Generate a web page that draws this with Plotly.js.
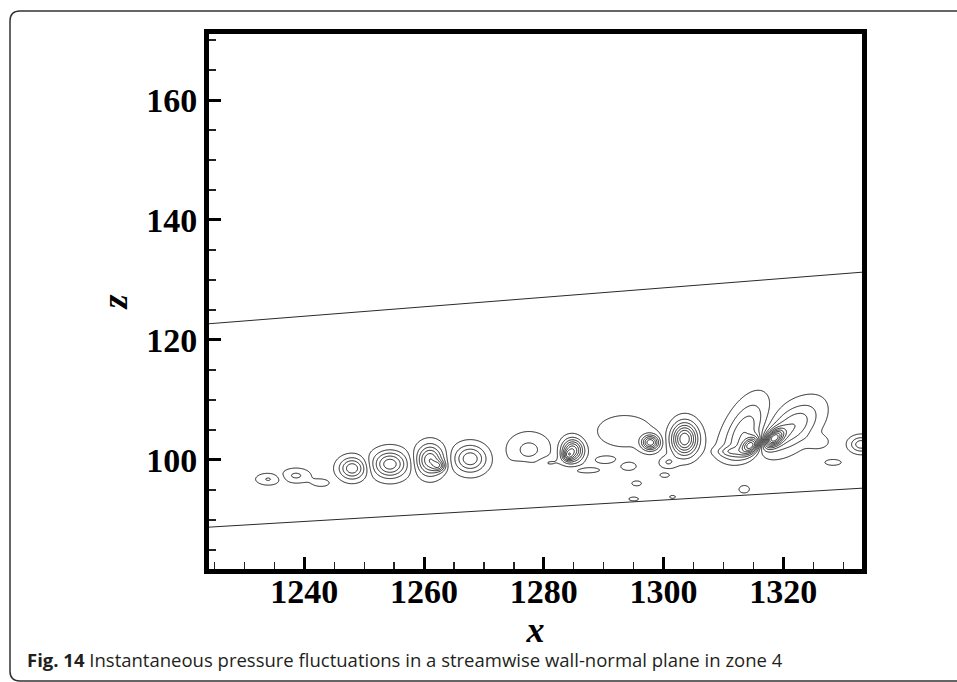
<!DOCTYPE html>
<html>
<head>
<meta charset="utf-8">
<script src="https://cdn.plot.ly/plotly-3.0.1.min.js"></script>
<style>
  html, body { margin: 0; padding: 0; background: #fff; }
  #chart { width: 957px; height: 682px; }
</style>
</head>
<body>
<div id="chart"></div>
<script>
// Pressure-fluctuation structures in the streamwise (x) / wall-normal (z) plane.
// Each structure: centre (x, z), peak amplitude in contour steps, widths along its
// own axes, and tilt of its major axis in degrees.
const vortexX    = [1234.0, 1238.6, 1242.8, 1248.0, 1254.3, 1261.0, 1262.5, 1267.7, 1277.5, 1280.6,
                    1284.8, 1284.0, 1287.0, 1290.3, 1294.1, 1295.5, 1293.5, 1297.8, 1303.5, 1300.7,
                    1300.2, 1295.0, 1301.5, 1313.3, 1314.6, 1321.5, 1318.4, 1311.0, 1311.0, 1325.8,
                    1328.3, 1333.0, 1313.4, 1276.5];
const vortexZ    = [96.8, 97.4, 96.2, 98.6, 99.3, 100.0, 99.0, 100.2, 101.7, 99.6,
                    101.6, 100.7, 98.3, 100.0, 99.0, 96.1, 104.8, 102.9, 103.5, 99.6,
                    97.5, 93.5, 93.85, 104.3, 102.4, 105.5, 103.6, 101.4, 98.5, 103.0,
                    99.6, 102.6, 95.15, 99.3];
const vortexAmp  = [1.6, -1.7, -0.9, 4.3, -5.2, 5.5, 3.0, -4.3, 1.8, -0.9,
                    -6.5, -3.0, 0.85, 0.9, -0.9, 0.75, 0.95, 6.0, -7.5, -1.5,
                    0.75, 0.75, 0.7, -3.5, -6.5, 3.5, 7.5, -1.6, 1.0, 1.1,
                    -0.8, -3.2, 0.8, -0.8];
const vortexSx   = [1.4, 1.6, 1.3, 1.5, 1.94, 1.5, 0.7, 1.83, 2.4, 1.4,
                    1.22, 0.6, 2.2, 1.5, 1.3, 0.9, 4.0, 1.0, 1.5, 1.0,
                    0.9, 0.9, 0.6, 4.0, 1.2, 3.6, 1.3, 1.5, 2.6, 1.3,
                    1.4, 1.3, 1.0, 1.2];
const vortexSz   = [0.65, 0.8, 0.55, 1.23, 1.52, 1.7, 0.6, 1.54, 1.9, 0.6,
                    1.3, 0.6, 0.45, 0.5, 0.7, 0.45, 2.3, 0.85, 1.85, 0.7,
                    0.45, 0.35, 0.3, 1.9, 0.8, 2.0, 0.8, 0.55, 1.0, 0.8,
                    0.5, 0.9, 0.7, 0.45];
const vortexTilt = [0, 0, 0, 0, 0, 0, 0, 0, 0, 0,
                    0, 0, 0, 0, 0, 0, 0, 0, 0, 0,
                    0, 0, 0, 65, 40, 40, 40, 0, 0, 0,
                    0, 0, 0, 0];

// Straight boundaries crossing the plane
const edgeX      = [1224.0, 1333.15];
const lowerEdgeZ = [88.8, 95.3];
const upperEdgeZ = [122.7, 131.3];

// Axis ticks
const xTicks = [1240, 1260, 1280, 1300, 1320];
const zTicks = [100, 120, 140, 160];

// Sample the pressure field on a regular grid for the contour trace
const gridX = [];
for (let i = 0; i <= 456; i++) gridX.push(1222 + i * 0.25);
const gridZ = [];
for (let j = 0; j <= 150; j++) gridZ.push(86 + j * 0.2);

const field = gridZ.map(z => gridX.map(x => {
  let p = 0;
  for (let k = 0; k < vortexX.length; k++) {
    const t = vortexTilt[k] * Math.PI / 180;
    const dx = x - vortexX[k], dz = z - vortexZ[k];
    const u = (dx * Math.cos(t) + dz * Math.sin(t)) / vortexSx[k];
    const v = (-dx * Math.sin(t) + dz * Math.cos(t)) / vortexSz[k];
    p += vortexAmp[k] * Math.exp(-0.5 * (u * u + v * v));
  }
  return p;
}));

const contourTrace = {
  type: 'contour',
  x: gridX,
  y: gridZ,
  z: field,
  autocontour: false,
  contours: { start: -10.5, end: 10.5, size: 1, coloring: 'none' },
  line: { color: '#1e1e1e', width: 1, smoothing: 0.6 },
  showscale: false,
  hoverinfo: 'skip'
};

const edgeStyle = { color: '#2a2a2a', width: 1 };
const lowerEdge = { type: 'scatter', mode: 'lines', x: edgeX, y: lowerEdgeZ, line: edgeStyle, hoverinfo: 'skip' };
const upperEdge = { type: 'scatter', mode: 'lines', x: edgeX, y: upperEdgeZ, line: edgeStyle, hoverinfo: 'skip' };

// Plot area in pixels, used to place the caption and the rounded frame in paper units
const L = 209, R = 862, T = 34, B = 569;
const px = v => (v - L) / (R - L);
const py = v => (B - v) / (B - T);

const tickFont = { family: 'Liberation Serif, Times New Roman, serif', size: 34, weight: 'bold', color: '#000' };
const axisTitleFont = { family: 'Liberation Serif, Times New Roman, serif', size: 36, weight: 'bold', style: 'italic', color: '#000' };

const commonAxis = {
  showgrid: false,
  zeroline: false,
  showline: true,
  linewidth: 5,
  linecolor: '#000',
  mirror: true,
  ticks: 'inside',
  ticklen: 12,
  tickwidth: 3,
  tickcolor: '#000',
  tickfont: tickFont,
  tickmode: 'array',
  automargin: false,
  fixedrange: true
};

const frame = [
  'M', px(975), py(11),
  'L', px(20), py(11),
  'Q', px(10), py(11), px(10), py(21),
  'L', px(10), py(671),
  'Q', px(10), py(681), px(20), py(681),
  'L', px(975), py(681)
].join(' ');

const layout = {
  width: 957,
  height: 682,
  margin: { l: L, r: 957 - R, t: T, b: 682 - B, pad: 0 },
  paper_bgcolor: '#fff',
  plot_bgcolor: '#fff',
  showlegend: false,
  xaxis: Object.assign({}, commonAxis, {
    range: [1224.08, 1333.14],
    tickvals: xTicks,
    ticklabelstandoff: -12,
    minor: { tickmode: 'linear', tick0: 1240, dtick: 5, ticks: 'inside', ticklen: 7, tickwidth: 1.3, tickcolor: '#222' },
    title: { text: 'x', font: axisTitleFont, standoff: 1 }
  }),
  yaxis: Object.assign({}, commonAxis, {
    range: [81.83, 171.0],
    tickvals: zTicks,
    minor: { tickmode: 'linear', tick0: 100, dtick: 5, ticks: 'inside', ticklen: 7, tickwidth: 1.3, tickcolor: '#222' },
    title: { text: 'z', font: axisTitleFont, standoff: 9 }
  }),
  shapes: [{
    type: 'path', xref: 'paper', yref: 'paper', path: frame,
    line: { color: '#333', width: 1.5 }, layer: 'above'
  }],
  annotations: [{
    xref: 'paper', yref: 'paper',
    x: px(25), y: py(659), xanchor: 'left', yanchor: 'middle',
    showarrow: false,
    text: '<b>Fig. 14</b> Instantaneous pressure fluctuations in a streamwise wall-normal plane in zone 4',
    font: { family: 'Open Sans, Noto Sans, sans-serif', size: 18.5, color: '#231f20' }
  }]
};

Plotly.newPlot('chart', [contourTrace, lowerEdge, upperEdge], layout, { staticPlot: true, displayModeBar: false });
</script>
</body>
</html>
